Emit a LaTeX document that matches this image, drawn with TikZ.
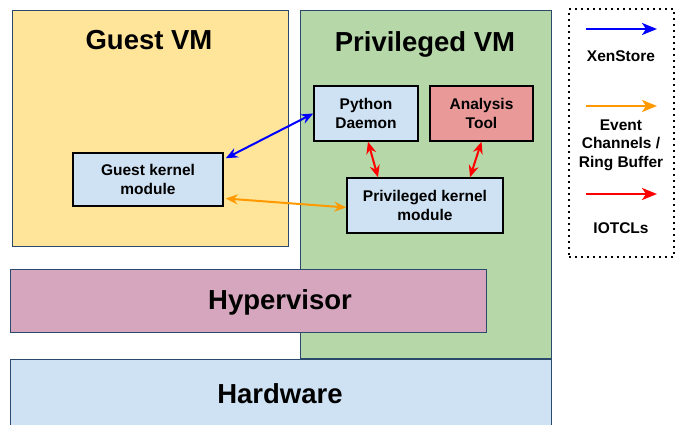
\documentclass[tikz,border=0pt]{standalone}
\usepackage{fontspec}
\setmainfont{Liberation Sans}
\usetikzlibrary{arrows.meta}
\definecolor{guestfill}{HTML}{FFE599}
\definecolor{privfill}{HTML}{B6D7A8}
\definecolor{hypfill}{HTML}{D5A6BD}
\definecolor{hwfill}{HTML}{CFE2F3}
\definecolor{toolfill}{HTML}{EA9999}
\definecolor{layerline}{HTML}{2B4A6B}
\definecolor{xsblue}{HTML}{0000FF}
\definecolor{evorange}{HTML}{FF9900}
\definecolor{ioctlred}{HTML}{FF0000}
\tikzset{
  layer/.style={draw=layerline, line width=1.2pt, anchor=north west, inner sep=0pt},
  inner/.style={draw=black, line width=1.5pt, fill=hwfill, align=center, font=\bfseries\fontsize{15.5}{19.5}\selectfont, inner sep=0pt},
  title/.style={font=\bfseries\fontsize{27.5}{30}\selectfont},
  legtext/.style={font=\bfseries\fontsize{15.5}{18.5}\selectfont, align=center},
  link/.style={line width=2pt, {Stealth[length=12pt,width=10pt,inset=4pt]}-{Stealth[length=12pt,width=10pt,inset=4pt]}},
  onearrow/.style={line width=2.2pt, -{Stealth[length=15pt,width=12pt,inset=4pt]}}
}
\begin{document}
\begin{tikzpicture}[x=1pt,y=-1pt]
\useasboundingbox (0,0) rectangle (683,425);
% layers
\node[layer, fill=guestfill, minimum width=276pt, minimum height=236pt] (guest) at (12,10) {};
\node[layer, fill=privfill, minimum width=251pt, minimum height=348pt] (priv) at (300,10) {};
\node[layer, fill=hypfill, minimum width=476pt, minimum height=63pt] (hyp) at (10,269) {};
\node[layer, fill=hwfill, minimum width=541pt, minimum height=70pt] (hw) at (10,359) {};
% titles
\node[title] (tguest) at (149,40) {Guest VM};
\node[title] (tpriv) at (425,44) {Privileged VM};
\node[title] (thyp) at (280,302) {Hypervisor};
\node[title] (thw) at (280,394) {Hardware};
% inner boxes
\node[inner, minimum width=104pt, minimum height=55pt] (py) at (366,113.5) {Python\\Daemon};
\node[inner, fill=toolfill, minimum width=103pt, minimum height=55pt] (tool) at (481.5,113.5) {Analysis\\Tool};
\node[inner, minimum width=156pt, minimum height=55pt] (pkm) at (425,205.5) {Privileged kernel\\module};
\node[inner, minimum width=150pt, minimum height=53pt] (gkm) at (148,179.5) {Guest kernel\\module};
% connectors
\draw[link, xsblue] ([xshift=2pt,yshift=-6pt]gkm.north east) -- (py.west);
\draw[link, evorange] ([xshift=2pt,yshift=-19pt]gkm.east) -- ([yshift=-2pt]pkm.west);
\draw[link, ioctlred] ([xshift=2pt]py.south) -- ([xshift=-47pt]pkm.north);
\draw[link, ioctlred] (tool.south) -- ([xshift=45pt]pkm.north);
% legend
\node[draw=black, dash pattern=on 1.8pt off 4.2pt, line width=1.8pt, minimum width=105pt, minimum height=248pt, anchor=north west] (legend) at (568,8) {};
\coordinate (la1) at (586,29); \coordinate (lb1) at (657,29);
\coordinate (la2) at (586,106); \coordinate (lb2) at (657,106);
\coordinate (la3) at (586,194); \coordinate (lb3) at (657,194);
\draw[onearrow, xsblue] (la1) -- (lb1);
\draw[onearrow, evorange] (la2) -- (lb2);
\draw[onearrow, ioctlred] (la3) -- (lb3);
\node[legtext] (lxs) at (621,56) {XenStore};
\node[legtext] (lev) at (621,145) {Event\\Channels /\\Ring Buffer};
\node[legtext] (lio) at (621,228) {IOTCLs};
\end{tikzpicture}
\end{document}
